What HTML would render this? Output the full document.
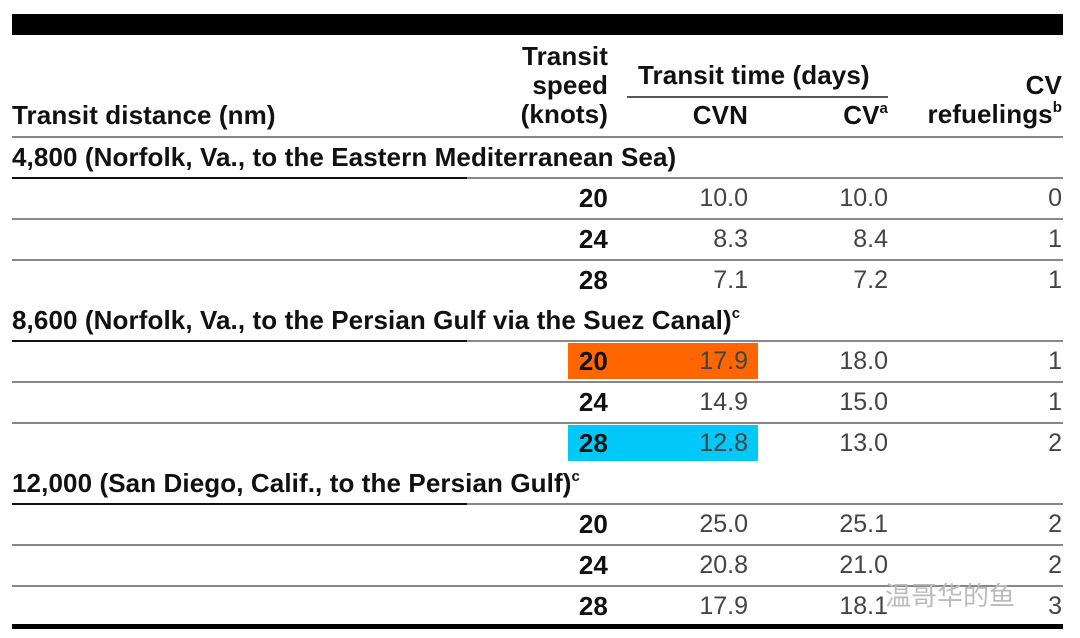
<!DOCTYPE html>
<html><head><meta charset="utf-8"><style>
body{margin:0;width:1080px;height:638px;background:#fff;position:relative;overflow:hidden;font-family:"Liberation Sans",Arial,sans-serif;}
.a{position:absolute;white-space:nowrap;}
.b{font-weight:bold;color:#111;font-size:26px;letter-spacing:0.1px;}
.n{color:#444;font-size:25px;}
.r{text-align:right;}
.l{position:absolute;height:2px;background:#888;}
sup{font-size:15px;vertical-align:11px;line-height:0}
</style></head><body>
<div class="a" style="left:12px;top:14px;width:1051px;height:21px;background:#000"></div>
<div class="a b r" style="right:472px;top:42px;line-height:29px">Transit<br>speed<br>(knots)</div>
<div class="a b" style="left:12px;top:100px">Transit distance (nm)</div>
<div class="a b" style="left:638px;top:60px">Transit time (days)</div>
<div class="l" style="left:627px;top:96px;width:261px;background:#555"></div>
<div class="a b r" style="right:332px;top:100px">CVN</div>
<div class="a b r" style="right:192px;top:100px">CV<sup>a</sup></div>
<div class="a b r" style="right:18px;top:71px;line-height:29px">CV<br>refuelings<sup>b</sup></div>
<div class="l" style="left:12px;top:136px;width:1051px"></div>

<div class="a" style="left:568px;top:343px;width:190px;height:36px;background:#ff6600"></div>
<div class="a" style="left:568px;top:425px;width:190px;height:36px;background:#00c8f8"></div>

<div id="t"></div>
<div class="a" style="left:12px;top:624px;width:1051px;height:5px;background:#000"></div>
<div class="a" style="left:885px;top:576px;color:#bbb;font-size:26px;font-family:'Liberation Sans','Noto Sans CJK SC',sans-serif">温哥华的鱼</div>
<script>
var g=[[144,"4,800 (Norfolk, Va., to the Eastern Mediterranean Sea)","",[["20","10.0","10.0","0"],["24","8.3","8.4","1"],["28","7.1","7.2","1"]]],
[307,"8,600 (Norfolk, Va., to the Persian Gulf via the Suez Canal)","c",[["20","17.9","18.0","1"],["24","14.9","15.0","1"],["28","12.8","13.0","2"]]],
[470,"12,000 (San Diego, Calif., to the Persian Gulf)","c",[["20","25.0","25.1","2"],["24","20.8","21.0","2"],["28","17.9","18.1","3"]]]];
var h="";
g.forEach(function(x){var y=x[0];
h+='<div class="a b" style="left:12px;top:'+(y-2)+'px">'+x[1]+(x[2]?'<sup>'+x[2]+'</sup>':'')+'</div>';
h+='<div class="l" style="left:12px;top:'+(y+33)+'px;width:455px;background:#111"></div><div class="l" style="left:467px;top:'+(y+33)+'px;width:596px"></div>';
x[3].forEach(function(r,i){var ty=y+41*(i+1);
h+='<div class="a b r" style="right:472px;top:'+(ty-2)+'px">'+r[0]+'</div>';
h+='<div class="a n r" style="right:332px;top:'+(ty-1)+'px">'+r[1]+'</div>';
h+='<div class="a n r" style="right:192px;top:'+(ty-1)+'px">'+r[2]+'</div>';
h+='<div class="a n r" style="right:18px;top:'+(ty-1)+'px">'+r[3]+'</div>';
if(i<2)h+='<div class="l" style="left:12px;top:'+(ty+33)+'px;width:1051px"></div>';});
});
document.getElementById("t").innerHTML=h;
</script>
</body></html>
